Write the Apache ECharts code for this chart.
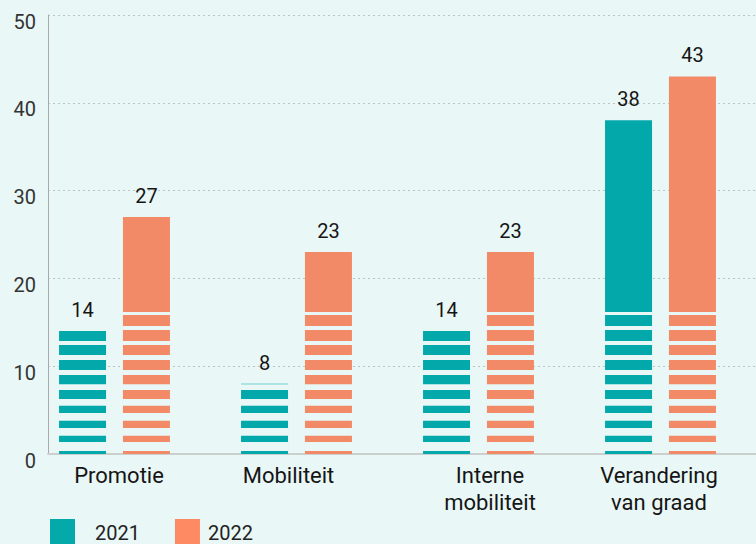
<!DOCTYPE html>
<html>
<head>
<meta charset="utf-8">
<script src="https://cdn.jsdelivr.net/npm/echarts@6/dist/echarts.min.js"></script>
<style>
  html, body { margin: 0; padding: 0; background: #e9f7f6; }
  #main { width: 756px; height: 544px; }
</style>
</head>
<body>
<div id="main"></div>
<script>
var categories = ['Promotie', 'Mobiliteit', 'Interne\nmobiliteit', 'Verandering\nvan graad'];
var values2021 = [14, 8, 14, 38];
var values2022 = [27, 23, 23, 43];
var seriesNames = ['2021', '2022'];

var BG = '#e9f7f6';
var TEAL = '#03a9aa';
var ORANGE = '#f28a68';
var FONT = 'Roboto';
// white stripes across the lower part of every bar (value ranges)
var GAPS = [[0.34, 1.37], [2.08, 2.96], [3.79, 4.67], [5.5, 6.26], [7.29, 7.93],
            [9.0, 9.57], [10.71, 11.28], [12.41, 12.87], [14.12, 14.58], [15.83, 16.17]];
// small horizontal nudges of the category labels (left, right padding)
var LABEL_PAD = [[0, 0, 0, 9], [0, 16, 0, 0], [0, 0, 0, 23], [0, 3, 0, 0]];

var myChart = echarts.init(document.getElementById('main'), null, { renderer: 'svg' });

var overlayData = [];
for (var i = 0; i < categories.length; i++) {
    overlayData.push([i, values2021[i], values2022[i]]);
}
var catData = categories.map(function (c, i) {
    return { value: c, textStyle: { padding: LABEL_PAD[i] } };
});

function renderStripes(params, api) {
    var idx = api.value(0);
    var base = api.coord([idx, 0]);
    var children = [];
    [[api.value(1), -32], [api.value(2), 32]].forEach(function (b) {
        var v = b[0];
        var x = base[0] + b[1] - 24;
        GAPS.forEach(function (g) {
            if (g[0] >= v) return;
            var top = api.coord([idx, Math.min(g[1], v)])[1];
            var bot = api.coord([idx, g[0]])[1];
            children.push({
                type: 'rect',
                shape: { x: x, y: top, width: 48, height: bot - top },
                style: { fill: BG }
            });
        });
    });
    return { type: 'group', children: children };
}

var labelStyle = {
    show: true, position: 'top', distance: 11,
    color: '#151515', fontSize: 20, fontFamily: FONT
};

var option = {
    backgroundColor: BG,
    animation: false,
    legend: {
        left: 50, top: 519, padding: 0,
        itemWidth: 25, itemHeight: 28, itemGap: 35,
        icon: 'rect',
        textStyle: { color: '#222', fontSize: 20, fontFamily: FONT },
        data: [
            { name: seriesNames[0], itemStyle: { color: '#04a9a9' },
              textStyle: { color: '#222', fontSize: 20, fontFamily: FONT, padding: [0, 0, 0, 15] } },
            { name: seriesNames[1], itemStyle: { color: '#fd8a62' },
              textStyle: { color: '#222', fontSize: 20, fontFamily: FONT, padding: [0, 0, 0, 3] } }
        ]
    },
    grid: [
        { left: 48, right: 0, top: 15, bottom: 90 },
        { left: 23.5, right: 4.5, top: 15, bottom: 90 }
    ],
    xAxis: [
        {
            gridIndex: 0, type: 'value', min: 0, max: 1,
            axisLine: { show: true, lineStyle: { color: '#cbd0cf', width: 2 } },
            axisTick: { show: false }, axisLabel: { show: false }, splitLine: { show: false }
        },
        {
            gridIndex: 1, type: 'category', data: catData,
            axisLine: { show: false }, axisTick: { show: false },
            axisLabel: { color: '#151515', fontSize: 22, fontFamily: FONT, margin: 8, lineHeight: 27 }
        }
    ],
    yAxis: [
        {
            gridIndex: 0, type: 'value', min: 0, max: 50, interval: 10,
            axisLine: { show: true, lineStyle: { color: '#aaaaaa', width: 1 } },
            axisTick: { show: false },
            axisLabel: { color: '#333', fontSize: 20, fontFamily: FONT, margin: 12, verticalAlign: 'top', lineHeight: 13 },
            splitLine: { show: true, lineStyle: { color: '#bcc5c4', type: [2, 3], width: 1 } }
        },
        { gridIndex: 1, type: 'value', min: 0, max: 50, show: false }
    ],
    series: [
        {
            name: seriesNames[0], type: 'bar', xAxisIndex: 1, yAxisIndex: 1,
            data: values2021, barWidth: 47, barGap: '36%',
            itemStyle: { color: TEAL }, label: labelStyle
        },
        {
            name: seriesNames[1], type: 'bar', xAxisIndex: 1, yAxisIndex: 1,
            data: values2022, barWidth: 47, barGap: '36%',
            itemStyle: { color: ORANGE }, label: labelStyle
        },
        {
            name: 'stripes', type: 'custom', xAxisIndex: 1, yAxisIndex: 1,
            data: overlayData, renderItem: renderStripes, z: 5, silent: true
        }
    ]
};
myChart.setOption(option);
</script>
</body>
</html>
